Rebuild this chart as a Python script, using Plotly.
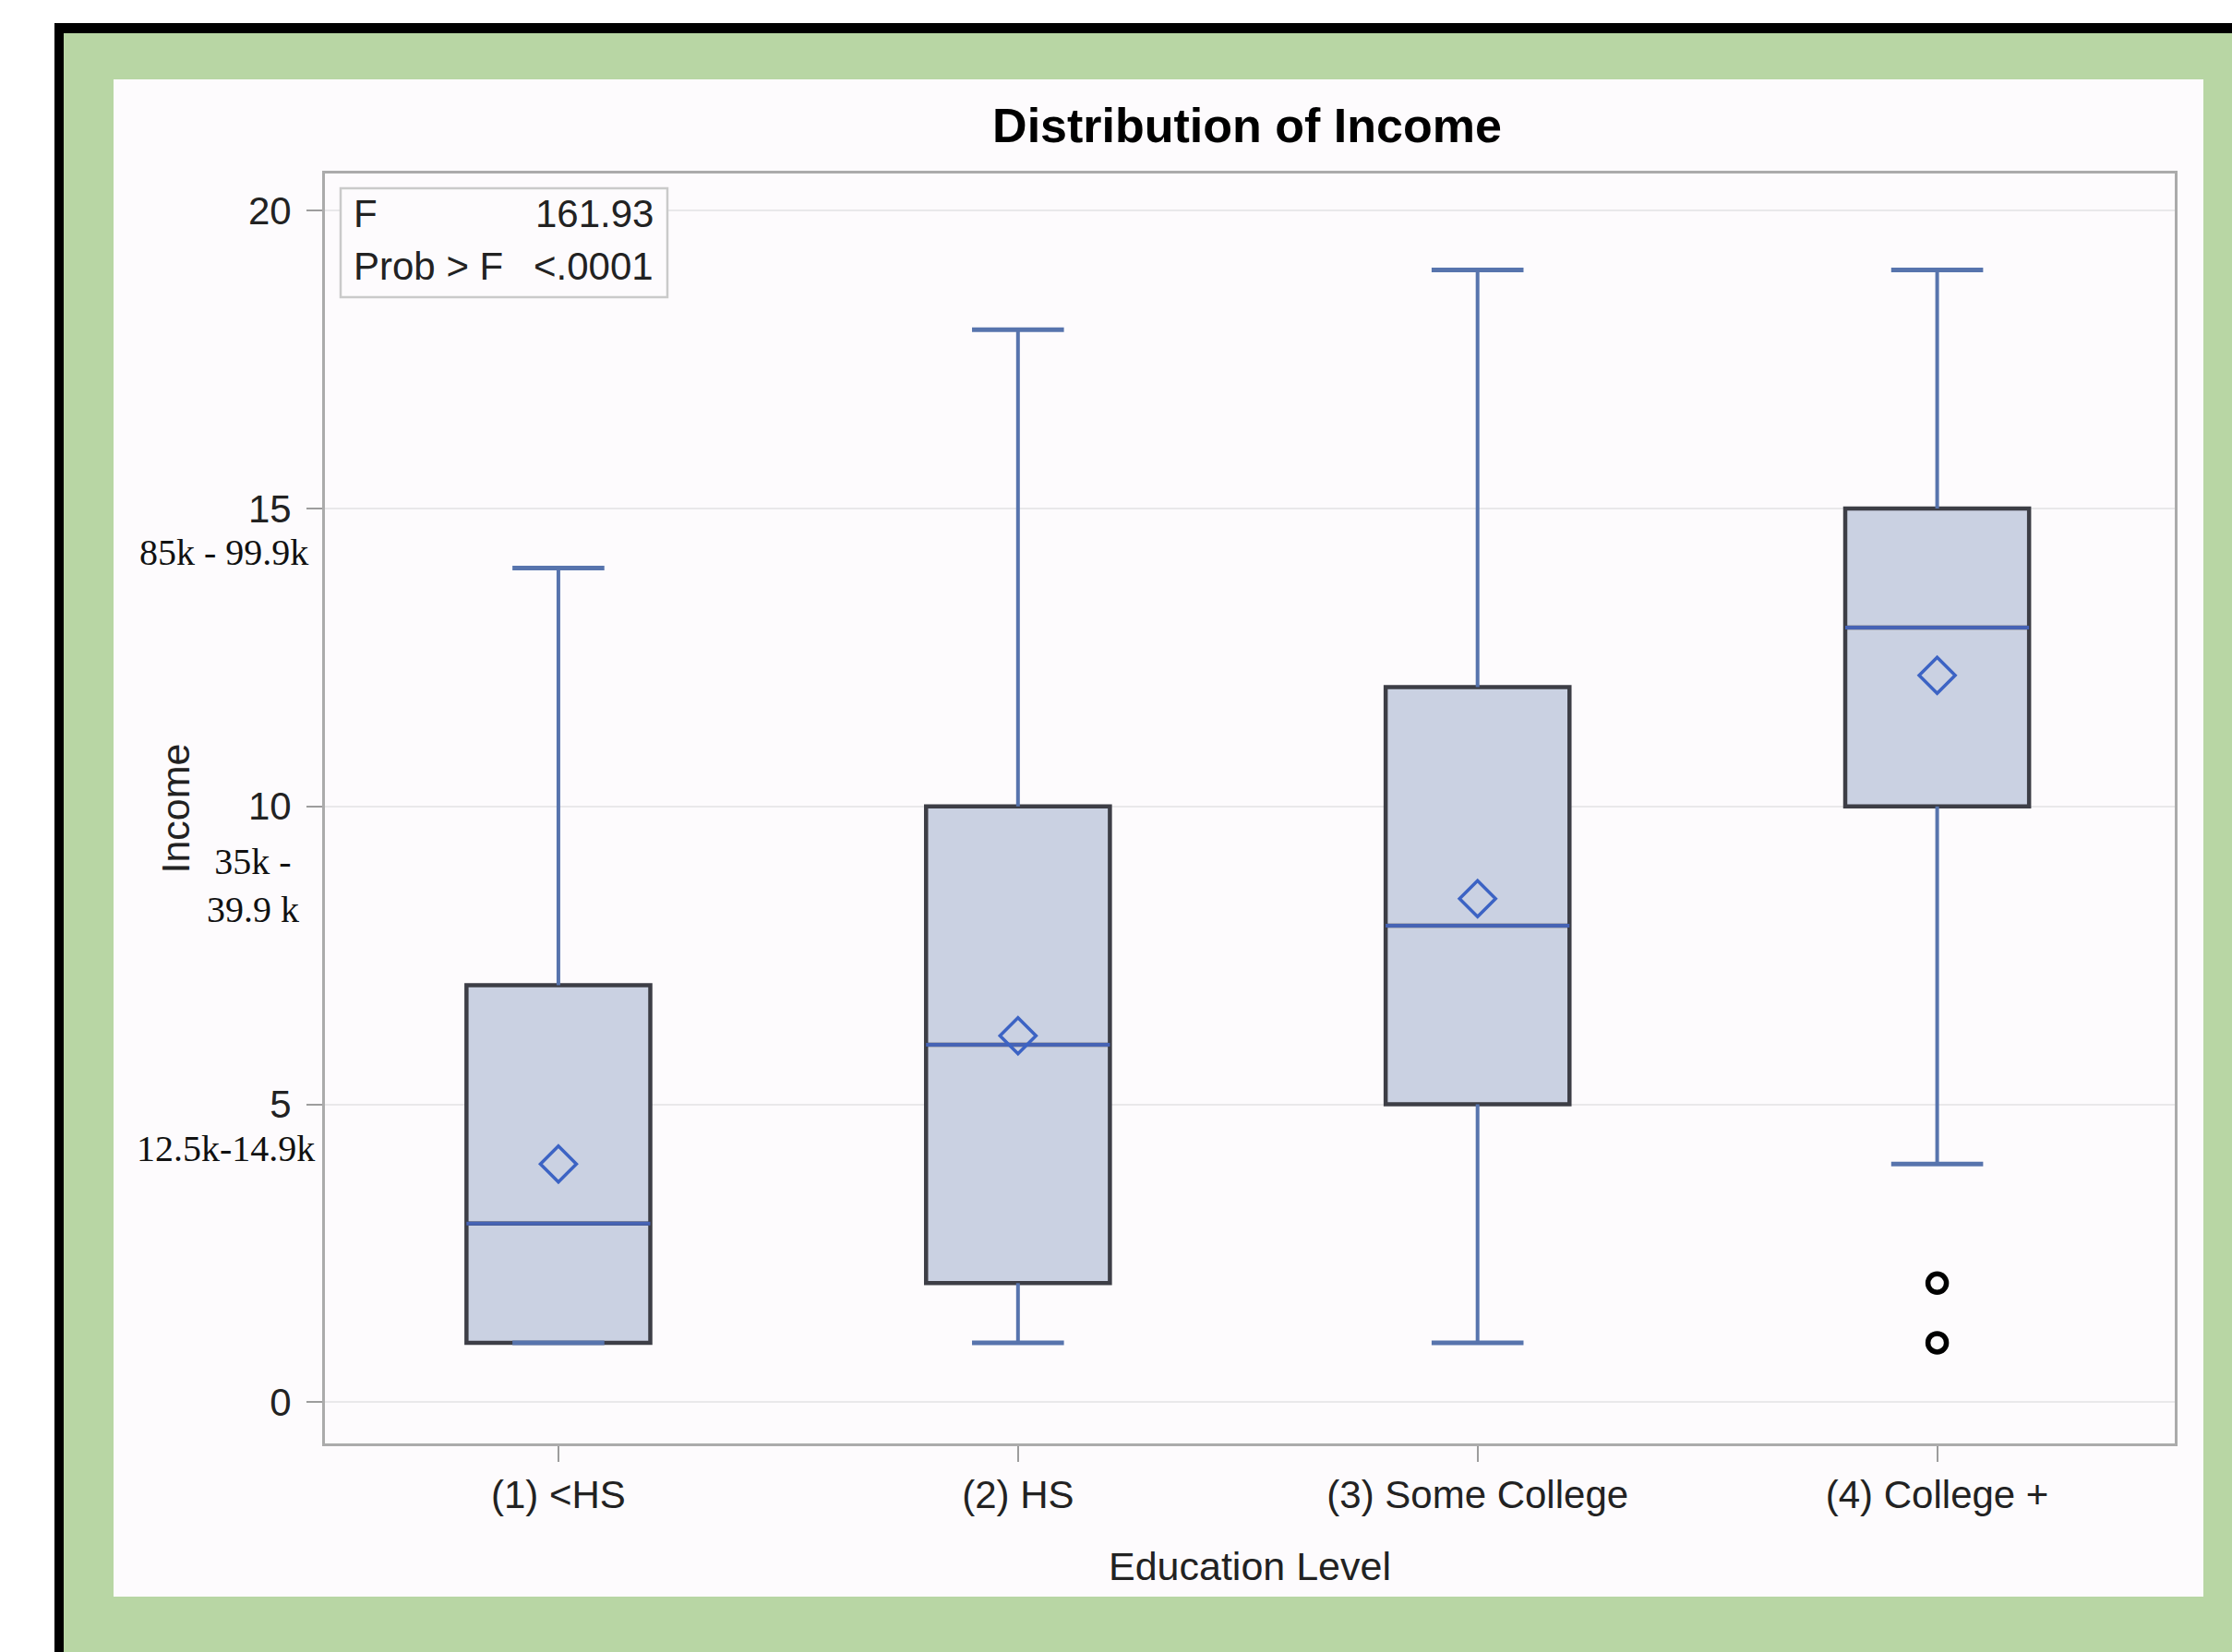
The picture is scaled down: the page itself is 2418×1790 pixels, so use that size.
import plotly.graph_objects as go

# ---- data -------------------------------------------------------------
categories = ["(1) <HS", "(2) HS", "(3) Some College", "(4) College +"]
q1 = [1, 2, 5, 10]
median = [3, 6, 8, 13]
q3 = [7, 10, 12, 15]
whisker_low = [1, 1, 1, 4]
whisker_high = [14, 18, 19, 19]
means = [4.0, 6.15, 8.45, 12.2]
outlier_group = [3, 3]
outlier_value = [2, 1]
y_ticks = [0, 5, 10, 15, 20]
band_values = [15, 10, 5]
band_labels = ["85k - 99.9k", "35k -<br>39.9 k", "12.5k-14.9k"]
stat_names = ["F", "Prob > F"]
stat_values = ["161.93", "<.0001"]

# ---- page geometry (pixels) -------------------------------------------
W, H = 2418, 1790
L, R, T, B = 352, 62, 188, 226
PW, PH = W - L - R, H - T - B


def px_x(x):
    return (x - L) / PW


def px_y(y):
    return (H - B - y) / PH


SANS = "Liberation Sans, Arial, sans-serif"
SERIF = "Liberation Serif, Times New Roman, serif"
BOX_FILL = "#cad1e2"
BOX_EDGE = "#3d3e46"
WHISKER = "#5774ad"
MEDIAN = "#4663b4"
MEAN = "#3c63c4"
PANEL = "#fdfbfd"

pos = list(range(len(categories)))
half_box = 0.2
half_cap = 0.1

fig = go.Figure()

# box bodies (Q1..Q3 with the outline)
fig.add_trace(go.Box(
    x=pos, q1=q1, median=median, q3=q3,
    lowerfence=q1, upperfence=q3,
    width=2 * half_box, whiskerwidth=0,
    fillcolor=BOX_FILL, line=dict(color=BOX_EDGE, width=4.5),
    boxpoints=False, hoverinfo="skip", showlegend=False,
))

# whiskers and caps
wx, wy, cx, cy = [], [], [], []
for p, lo, a, b, hi in zip(pos, whisker_low, q1, q3, whisker_high):
    wx += [p, p, None, p, p, None]
    wy += [b, hi, None, lo, a, None]
    cx += [p - half_cap, p + half_cap, None, p - half_cap, p + half_cap, None]
    cy += [hi, hi, None, lo, lo, None]
fig.add_trace(go.Scatter(x=wx, y=wy, mode="lines",
                         line=dict(color=WHISKER, width=4),
                         hoverinfo="skip", showlegend=False))
fig.add_trace(go.Scatter(x=cx, y=cy, mode="lines",
                         line=dict(color=WHISKER, width=5),
                         hoverinfo="skip", showlegend=False))

# medians
mx, my = [], []
for p, m in zip(pos, median):
    mx += [p - half_box, p + half_box, None]
    my += [m, m, None]
fig.add_trace(go.Scatter(x=mx, y=my, mode="lines",
                         line=dict(color=MEDIAN, width=4),
                         hoverinfo="skip", showlegend=False))

# means
fig.add_trace(go.Scatter(x=pos, y=means, mode="markers",
                         marker=dict(symbol="diamond-open", size=30,
                                     color=MEAN, line=dict(color=MEAN, width=3.5)),
                         showlegend=False))

# outliers
fig.add_trace(go.Scatter(x=outlier_group, y=outlier_value, mode="markers",
                         marker=dict(symbol="circle-open", size=20,
                                     color="black", line=dict(color="black", width=5.5)),
                         showlegend=False))

# ---- frame: white page, black rule, green mat, panel -------------------
shapes = [
    dict(type="rect", xref="paper", yref="paper", layer="below",
         x0=px_x(59), x1=px_x(W + 20), y0=px_y(25), y1=px_y(H + 20),
         fillcolor="black", line=dict(width=0)),
    dict(type="rect", xref="paper", yref="paper", layer="below",
         x0=px_x(69), x1=px_x(W + 20), y0=px_y(36), y1=px_y(H + 20),
         fillcolor="#b8d6a4", line=dict(width=0)),
    dict(type="rect", xref="paper", yref="paper", layer="below",
         x0=px_x(123), x1=px_x(2387), y0=px_y(86), y1=px_y(1730),
         fillcolor=PANEL, line=dict(width=0)),
    # statistics inset
    dict(type="rect", xref="paper", yref="paper", layer="above",
         x0=px_x(369), x1=px_x(723), y0=px_y(204), y1=px_y(322),
         fillcolor=PANEL, line=dict(color="#cacaca", width=2.5)),
]

annotations = []
for i, (name, val) in enumerate(zip(stat_names, stat_values)):
    yy = px_y(231 + 57 * i)
    annotations.append(dict(xref="paper", yref="paper", x=px_x(381), y=yy,
                            text=name, showarrow=False, xanchor="left", yanchor="middle",
                            font=dict(family=SANS, size=42, color="#222")))
    annotations.append(dict(xref="paper", yref="paper", x=px_x(710), y=yy,
                            text=val, showarrow=False, xanchor="right", yanchor="middle",
                            font=dict(family=SANS, size=42, color="#222")))

# income band notes under the tick labels
band_x = [242, 274, 244]
band_shift = [-48, -86, -48]
for v, lab, bx, sh in zip(band_values, band_labels, band_x, band_shift):
    annotations.append(dict(xref="paper", yref="y", x=px_x(bx), y=v, yshift=sh,
                            text=lab, showarrow=False, xanchor="center", yanchor="middle",
                            font=dict(family=SERIF, size=40, color="#111")))

fig.update_layout(
    width=W, height=H,
    margin=dict(l=L, r=R, t=T, b=B, pad=0),
    paper_bgcolor="white",
    plot_bgcolor=PANEL,
    shapes=shapes,
    annotations=annotations,
    title=dict(text="<b>Distribution of Income</b>", x=px_x(1351), xref="paper",
               xanchor="center", y=1 - 136 / H, yref="container", yanchor="middle",
               font=dict(family=SANS, size=52, color="black")),
    xaxis=dict(
        range=[-0.508, 3.517], tickvals=pos, ticktext=categories,
        showline=True, mirror=True, linecolor="#ababab", linewidth=3,
        ticks="outside", ticklen=17, tickwidth=2, tickcolor="#9d9d9d",
        showgrid=False, zeroline=False,
        tickfont=dict(family=SANS, size=42, color="#222"),
        title=dict(text="Education Level", standoff=40,
                   font=dict(family=SANS, size=43, color="#222")),
    ),
    yaxis=dict(
        range=[-0.69, 20.62], tickvals=y_ticks,
        showline=True, mirror=True, linecolor="#ababab", linewidth=3,
        ticks="outside", ticklen=17, tickwidth=2, tickcolor="#9d9d9d",
        ticklabelstandoff=8,
        showgrid=True, gridcolor="#e9e8ea", gridwidth=2, zeroline=False,
        tickfont=dict(family=SANS, size=42, color="#222"),
        title=dict(text="Income", standoff=50,
                   font=dict(family=SANS, size=43, color="#222")),
    ),
)

fig.write_html("out.html")
